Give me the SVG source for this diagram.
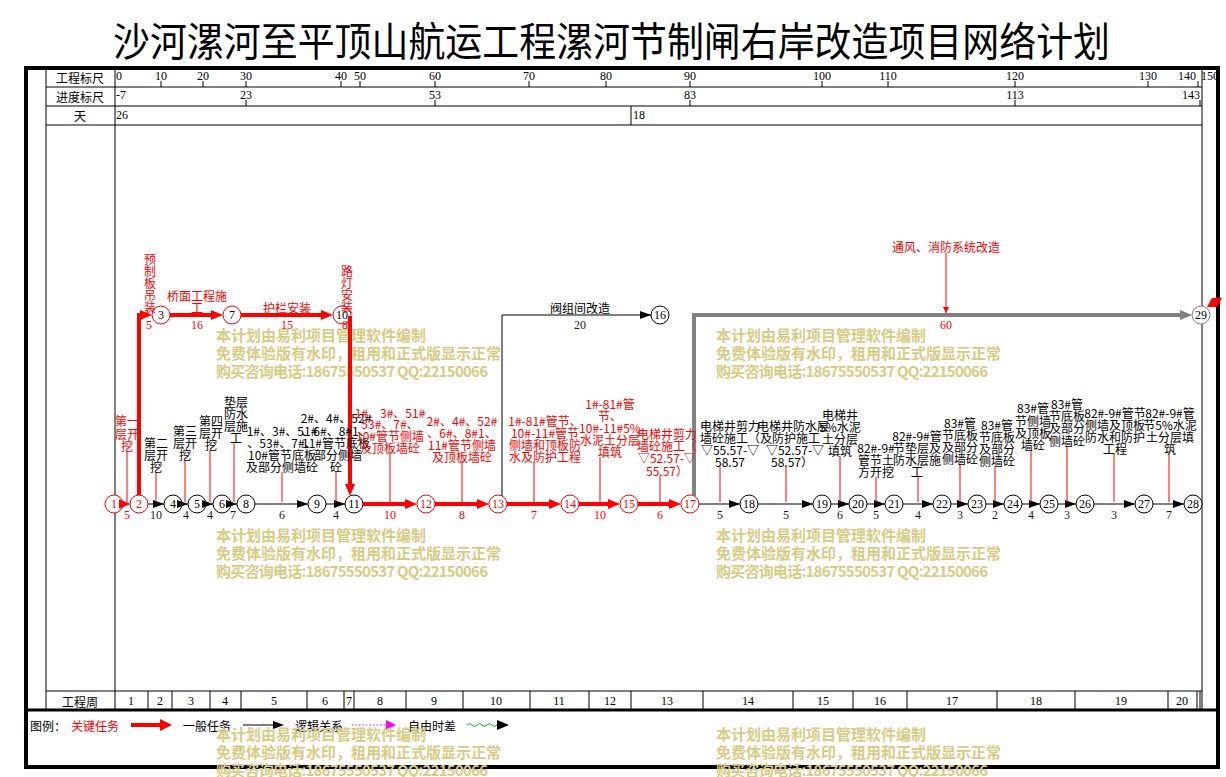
<svg xmlns="http://www.w3.org/2000/svg" width="1226" height="777" viewBox="0 0 1226 777">
<defs>
<style>
.t{font-family:"Noto Sans CJK SC","Noto Sans",sans-serif;font-size:12px;dominant-baseline:central;text-anchor:middle}
.n{font-family:"Liberation Serif",serif;font-size:12px;dominant-baseline:central;text-anchor:middle}
.s{text-anchor:start}
.r{fill:#f00}
.k{fill:#000}
.d{fill:#1a1a1a}
.wm{font-family:"Noto Sans CJK SC",sans-serif;font-size:15px;font-weight:bold;fill:#d8cb84;dominant-baseline:central}
.nc{fill:#fff;stroke:#000;stroke-width:1}
.rc{stroke:#f00}
.gc{stroke:#808080}
.grid{fill:none;stroke:#000;stroke-width:1}
.bk{fill:none;stroke:#000;stroke-width:1;marker-end:url(#ab)}
.cr{fill:none;stroke:#f00;stroke-width:4;marker-end:url(#ar)}
.gy{fill:none;stroke:#808080;stroke-width:4;marker-end:url(#ag)}
.pt{fill:none;stroke:#f00;stroke-width:1;marker-end:url(#ap)}
</style>
<marker id="ab" markerUnits="userSpaceOnUse" markerWidth="11" markerHeight="8" refX="11" refY="4" orient="auto"><path d="M0,0L11,4L0,8z" fill="#000"/></marker>
<marker id="ar" markerUnits="userSpaceOnUse" markerWidth="12" markerHeight="10" refX="6" refY="5" orient="auto"><path d="M0,0L12,5L0,10z" fill="#f00"/></marker>
<marker id="ag" markerUnits="userSpaceOnUse" markerWidth="12" markerHeight="10" refX="6" refY="5" orient="auto"><path d="M0,0L12,5L0,10z" fill="#808080"/></marker>
<marker id="ap" markerUnits="userSpaceOnUse" markerWidth="6" markerHeight="6" refX="6" refY="3" orient="auto"><path d="M0,0L6,3L0,6z" fill="#f00"/></marker>
</defs>
<rect x="0" y="0" width="1226" height="777" fill="#fff"/>
<text x="113" y="56" font-family="Noto Sans CJK SC, sans-serif" font-size="40" textLength="997" lengthAdjust="spacingAndGlyphs" fill="#000">沙河漯河至平顶山航运工程漯河节制闸右岸改造项目网络计划</text>

<g id="frame">
<rect x="26" y="68" width="1192" height="699" fill="none" stroke="#000" stroke-width="4"/>
<path class="grid" d="M46,68V710M115,68V710M1202,68V710M46,87H1202M46,106H1202M46,125H1202M46,691H1202"/>
<path d="M26,710H1218" stroke="#000" stroke-width="3"/>
<path class="grid" d="M161,81V87M203,81V87M246,81V87M341,81V87M360,81V87M435,81V87M529,81V87M606,81V87M690,81V87M822,81V87M888,81V87M1015,81V87M1148,81V87M1198,81V87M246,100V106M435,100V106M690,100V106M1015,100V106M1200,100V106M631,106V125"/>
<path class="grid" d="M148,691V710M172,691V710M210,691V710M241,691V710M307,691V710M344,691V710M354,691V710M406,691V710M463,691V710M530,691V710M589,691V710M631,691V710M703,691V710M793,691V710M853,691V710M907,691V710M997,691V710M1075,691V710M1168,691V710M1197,691V710M1200,691V710"/>
<text class="t k" x="80" y="77">工程标尺</text>
<text class="t k" x="80" y="96">进度标尺</text>
<text class="t k" x="80" y="115">天</text>
<text class="t k" x="80" y="701">工程周</text>
<g class="n k">
<text class="s" x="116" y="76">0</text><text x="161" y="76">10</text><text x="203" y="76">20</text><text x="246" y="76">30</text><text x="341" y="76">40</text><text x="360" y="76">50</text><text x="435" y="76">60</text><text x="529" y="76">70</text><text x="606" y="76">80</text><text x="690" y="76">90</text><text x="822" y="76">100</text><text x="888" y="76">110</text><text x="1015" y="76">120</text><text x="1148" y="76">130</text><text x="1187" y="76">140</text><text x="1210" y="76">150</text>
<text class="s" x="116" y="95">-7</text><text x="246" y="95">23</text><text x="435" y="95">53</text><text x="690" y="95">83</text><text x="1015" y="95">113</text><text x="1191" y="95">143</text>
<text class="s" x="116" y="115">26</text><text class="s" x="633" y="115">18</text>
<text x="131" y="701">1</text><text x="160" y="701">2</text><text x="191" y="701">3</text><text x="225" y="701">4</text><text x="274" y="701">5</text><text x="325" y="701">6</text><text x="349" y="701">7</text><text x="380" y="701">8</text><text x="434" y="701">9</text><text x="496" y="701">10</text><text x="559" y="701">11</text><text x="610" y="701">12</text><text x="667" y="701">13</text><text x="748" y="701">14</text><text x="823" y="701">15</text><text x="880" y="701">16</text><text x="952" y="701">17</text><text x="1036" y="701">18</text><text x="1121" y="701">19</text><text x="1182" y="701">20</text>
</g>
</g>

<g id="legend">
<text class="t k s" x="30" y="725">图例：</text>
<text class="t r s" x="71" y="725">关键任务</text>
<path d="M131,725H163" stroke="#f00" stroke-width="4"/><path d="M160,719L172,725L160,731z" fill="#f00"/>
<text class="t k s" x="183" y="725">一般任务</text>
<path d="M243,725H275" stroke="#000" stroke-width="1"/><path d="M273,721L284,725L273,729z" fill="#000"/>
<text class="t k s" x="295" y="725">逻辑关系</text>
<path d="M352,725H386" stroke="#f0f" stroke-width="1" stroke-dasharray="1.5,2"/><path d="M386,720L396,725L386,730z" fill="#f0f"/>
<text class="t k s" x="408" y="725">自由时差</text>
<path d="M467,725q2.5,-3 5,0t5,0t5,0t5,0t5,0t5,0" fill="none" stroke="#00c000" stroke-width="1"/><path d="M497,720L509,725L497,730z" fill="#000"/>
</g>

<g id="watermark" class="wm">
<text x="216" y="334">本计划由易利项目管理软件编制</text><text x="216" y="352">免费体验版有水印，租用和正式版显示正常</text><text x="216" y="370" textLength="272">购买咨询电话:18675550537 QQ:22150066</text>
<text x="716" y="334">本计划由易利项目管理软件编制</text><text x="716" y="352">免费体验版有水印，租用和正式版显示正常</text><text x="716" y="370" textLength="272">购买咨询电话:18675550537 QQ:22150066</text>
<text x="216" y="534">本计划由易利项目管理软件编制</text><text x="216" y="552">免费体验版有水印，租用和正式版显示正常</text><text x="216" y="570" textLength="272">购买咨询电话:18675550537 QQ:22150066</text>
<text x="716" y="534">本计划由易利项目管理软件编制</text><text x="716" y="552">免费体验版有水印，租用和正式版显示正常</text><text x="716" y="570" textLength="272">购买咨询电话:18675550537 QQ:22150066</text>
<text x="216" y="733">本计划由易利项目管理软件编制</text><text x="216" y="751">免费体验版有水印，租用和正式版显示正常</text><text x="216" y="769" textLength="272">购买咨询电话:18675550537 QQ:22150066</text>
<text x="716" y="733">本计划由易利项目管理软件编制</text><text x="716" y="751">免费体验版有水印，租用和正式版显示正常</text><text x="716" y="769" textLength="272">购买咨询电话:18675550537 QQ:22150066</text>
</g>

<g id="nodes">
<g id="n1"><circle class="nc rc" cx="114" cy="504" r="9"/><text class="n r" x="114" y="504">1</text></g>
<g id="n2"><circle class="nc rc" cx="139" cy="504" r="9"/><text class="n r" x="139" y="504">2</text></g>
<g id="n3"><circle class="nc rc" cx="161" cy="315" r="9"/><text class="n k" x="161" y="315">3</text></g>
<g id="n4"><circle class="nc" cx="173" cy="504" r="9"/><text class="n k" x="173" y="504">4</text></g>
<g id="n5"><circle class="nc" cx="197" cy="504" r="9"/><text class="n k" x="197" y="504">5</text></g>
<g id="n6"><circle class="nc" cx="222" cy="504" r="9"/><text class="n k" x="222" y="504">6</text></g>
<g id="n7"><circle class="nc rc" cx="232" cy="315" r="9"/><text class="n k" x="232" y="315">7</text></g>
<g id="n8"><circle class="nc" cx="246" cy="504" r="9"/><text class="n k" x="246" y="504">8</text></g>
<g id="n9"><circle class="nc" cx="317" cy="504" r="9"/><text class="n k" x="317" y="504">9</text></g>
<g id="n10"><circle class="nc rc" cx="342" cy="315" r="9"/><text class="n k" x="342" y="315">10</text></g>
<g id="n11"><circle class="nc" cx="354" cy="504" r="9"/><text class="n k" x="354" y="504">11</text></g>
<g id="n12"><circle class="nc rc" cx="426" cy="504" r="9"/><text class="n r" x="426" y="504">12</text></g>
<g id="n13"><circle class="nc rc" cx="498" cy="504" r="9"/><text class="n r" x="498" y="504">13</text></g>
<g id="n14"><circle class="nc rc" cx="570" cy="504" r="9"/><text class="n r" x="570" y="504">14</text></g>
<g id="n15"><circle class="nc rc" cx="629" cy="504" r="9"/><text class="n r" x="629" y="504">15</text></g>
<g id="n16"><circle class="nc" cx="660" cy="315" r="9"/><text class="n k" x="660" y="315">16</text></g>
<g id="n17"><circle class="nc rc" cx="690" cy="504" r="9"/><text class="n r" x="690" y="504">17</text></g>
<g id="n18"><circle class="nc" cx="749" cy="504" r="9"/><text class="n k" x="749" y="504">18</text></g>
<g id="n19"><circle class="nc" cx="822" cy="504" r="9"/><text class="n k" x="822" y="504">19</text></g>
<g id="n20"><circle class="nc" cx="858" cy="504" r="9"/><text class="n k" x="858" y="504">20</text></g>
<g id="n21"><circle class="nc" cx="894" cy="504" r="9"/><text class="n k" x="894" y="504">21</text></g>
<g id="n22"><circle class="nc" cx="942" cy="504" r="9"/><text class="n k" x="942" y="504">22</text></g>
<g id="n23"><circle class="nc" cx="977" cy="504" r="9"/><text class="n k" x="977" y="504">23</text></g>
<g id="n24"><circle class="nc" cx="1013" cy="504" r="9"/><text class="n k" x="1013" y="504">24</text></g>
<g id="n25"><circle class="nc" cx="1049" cy="504" r="9"/><text class="n k" x="1049" y="504">25</text></g>
<g id="n26"><circle class="nc" cx="1085" cy="504" r="9"/><text class="n k" x="1085" y="504">26</text></g>
<g id="n27"><circle class="nc" cx="1144" cy="504" r="9"/><text class="n k" x="1144" y="504">27</text></g>
<g id="n28"><circle class="nc" cx="1193" cy="504" r="9"/><text class="n k" x="1193" y="504">28</text></g>
<g id="n29"><circle class="nc gc" cx="1201" cy="315" r="9"/><text class="n k" x="1201" y="315">29</text><path d="M1212,298H1222L1217,307H1207z" fill="#f00"/></g>
</g>

<g id="connectors">
<path class="cr" d="M123,504H124.5"/>
<path class="cr" d="M139,495V315H146"/>
<path class="cr" d="M170,315H217"/>
<path class="cr" d="M241,315H327"/>
<path class="cr" d="M350,316V490"/>
<path class="cr" d="M363,504H411"/>
<path class="cr" d="M435,504H483"/>
<path class="cr" d="M507,504H555"/>
<path class="cr" d="M579,504H614"/>
<path class="cr" d="M638,504H675"/>
<path class="bk" d="M148,504H164"/>
<path class="bk" d="M182,504H188"/>
<path class="bk" d="M206,504H213"/>
<path class="bk" d="M231,504H237"/>
<path class="bk" d="M255,504H308"/>
<path class="bk" d="M326,504H345"/>
<path class="bk" d="M502,496V315H651"/>
<path class="bk" d="M699,504H740"/>
<path class="bk" d="M758,504H813"/>
<path class="bk" d="M831,504H849"/>
<path class="bk" d="M867,504H885"/>
<path class="bk" d="M903,504H933"/>
<path class="bk" d="M951,504H968"/>
<path class="bk" d="M986,504H1004"/>
<path class="bk" d="M1022,504H1040"/>
<path class="bk" d="M1058,504H1076"/>
<path class="bk" d="M1094,504H1135"/>
<path class="bk" d="M1153,504H1184"/>
<path class="gy" d="M694,496V315H1186"/>
<path class="pt" d="M127,451V502M156,472V502M185,460V502M210,450V502M234,443V502M282,472V502M336,472V502M390,453V502M462,462V502M534,462V502M600,457V502M660,476V502M720,467V502M786,467V502M840,456V502M876,477V502M918,477V502M960,464V502M995,466V502M1031,450V502M1067,446V502M1114,454V502M1169,454V502M946,253V313"/>
</g>

<g id="labels">
<text class="t r" x="127"><tspan x="127" y="420">第一</tspan><tspan x="127" y="433">层开</tspan><tspan x="127" y="445">挖</tspan></text>
<text class="t k" x="156"><tspan x="156" y="442">第二</tspan><tspan x="156" y="454">层开</tspan><tspan x="156" y="466">挖</tspan></text>
<text class="t k" x="185"><tspan x="185" y="430">第三</tspan><tspan x="185" y="442">层开</tspan><tspan x="185" y="454">挖</tspan></text>
<text class="t k" x="211"><tspan x="211" y="420">第四</tspan><tspan x="211" y="432">层开</tspan><tspan x="211" y="444">挖</tspan></text>
<text class="t k" x="236"><tspan x="236" y="401">垫层</tspan><tspan x="236" y="413">防水</tspan><tspan x="236" y="425">层施</tspan><tspan x="236" y="437">工</tspan></text>
<text class="t k" x="282"><tspan x="282" y="430">1#、3#、51#</tspan><tspan x="282" y="442">、53#、7#、</tspan><tspan x="282" y="454">10#管节底板</tspan><tspan x="282" y="466">及部分侧墙砼</tspan></text>
<text class="t k" x="336"><tspan x="336" y="417">2#、4#、52#</tspan><tspan x="336" y="430">、6#、8#1、</tspan><tspan x="336" y="442">11#管节底板</tspan><tspan x="338" y="454">部分侧墙</tspan><tspan x="336" y="466">砼</tspan></text>
<text class="t r" x="390"><tspan x="390" y="412">1#、3#、51#</tspan><tspan x="390" y="423">53#、7#、</tspan><tspan x="390" y="435">10#管节侧墙</tspan><tspan x="390" y="447">及顶板墙砼</tspan></text>
<text class="t r" x="462"><tspan x="462" y="420">2#、4#、52#</tspan><tspan x="462" y="432">、6#、8#1、</tspan><tspan x="462" y="444">11#管节侧墙</tspan><tspan x="462" y="456">及顶板墙砼</tspan></text>
<text class="t r" x="545"><tspan x="545" y="420">1#-81#管节、</tspan><tspan x="545" y="432">10#-11#管节</tspan><tspan x="545" y="444">侧墙和顶板防</tspan><tspan x="545" y="456">水及防护工程</tspan></text>
<text class="t r" x="610"><tspan x="610" y="403">1#-81#管</tspan><tspan x="610" y="415">节、</tspan><tspan x="610" y="427">10#-11#5%</tspan><tspan x="610" y="439">水泥土分层</tspan><tspan x="610" y="451">填筑</tspan></text>
<text class="t r" x="667"><tspan x="667" y="433">电梯井剪力</tspan><tspan x="667" y="445">墙砼施工（</tspan><tspan x="667" y="457">▽52.57-▽</tspan><tspan x="667" y="470">55.57）</tspan></text>
<text class="t k" x="730"><tspan x="730" y="425">电梯井剪力</tspan><tspan x="730" y="437">墙砼施工（</tspan><tspan x="730" y="449">▽55.57-▽</tspan><tspan x="730" y="461">58.57</tspan></text>
<text class="t k" x="792"><tspan x="793" y="425">电梯井防水层</tspan><tspan x="790" y="437">及防护施工</tspan><tspan x="795" y="449">▽52.57-▽</tspan><tspan x="792" y="461">58.57）</tspan></text>
<text class="t k" x="840"><tspan x="840" y="414">电梯井</tspan><tspan x="840" y="426">5%水泥</tspan><tspan x="840" y="438">土分层</tspan><tspan x="840" y="450">填筑</tspan></text>
<text class="t k" x="876"><tspan x="876" y="447">82#-9#</tspan><tspan x="876" y="459">管节土</tspan><tspan x="876" y="471">方开挖</tspan></text>
<text class="t k" x="917"><tspan x="917" y="435">82#-9#管</tspan><tspan x="917" y="447">节垫层及</tspan><tspan x="917" y="459">防水层施</tspan><tspan x="917" y="471">工</tspan></text>
<text class="t k" x="960"><tspan x="960" y="422">83#管</tspan><tspan x="960" y="434">节底板</tspan><tspan x="960" y="446">及部分</tspan><tspan x="960" y="458">侧墙砼</tspan></text>
<text class="t k" x="997"><tspan x="997" y="424">83#管</tspan><tspan x="997" y="436">节底板</tspan><tspan x="997" y="448">及部分</tspan><tspan x="997" y="460">侧墙砼</tspan></text>
<text class="t k" x="1033"><tspan x="1033" y="407">83#管</tspan><tspan x="1033" y="420">节侧墙</tspan><tspan x="1033" y="432">及顶板</tspan><tspan x="1033" y="444">墙砼</tspan></text>
<text class="t k" x="1067"><tspan x="1067" y="403">83#管</tspan><tspan x="1067" y="415">节底板</tspan><tspan x="1067" y="427">及部分</tspan><tspan x="1067" y="440">侧墙砼</tspan></text>
<text class="t k" x="1115"><tspan x="1115" y="412">82#-9#管节</tspan><tspan x="1115" y="424">侧墙及顶板</tspan><tspan x="1115" y="436">防水和防护</tspan><tspan x="1115" y="448">工程</tspan></text>
<text class="t k" x="1170"><tspan x="1170" y="412">82#-9#管</tspan><tspan x="1170" y="424">节5%水泥</tspan><tspan x="1170" y="436">土分层填</tspan><tspan x="1170" y="448">筑</tspan></text>
<text class="t r" x="150"><tspan x="150" y="258">预</tspan><tspan x="150" y="270">制</tspan><tspan x="150" y="282">板</tspan><tspan x="150" y="294">吊</tspan><tspan x="150" y="306">装</tspan></text>
<text class="t r" x="197"><tspan x="197" y="295">桥面工程施</tspan><tspan x="197" y="307">工</tspan></text>
<text class="t r" x="287" y="307">护栏安装</text>
<text class="t r" x="347"><tspan x="347" y="270">路</tspan><tspan x="347" y="282">灯</tspan><tspan x="347" y="294">安</tspan><tspan x="347" y="306">装</tspan></text>
<text class="t k" x="580" y="307">阀组间改造</text>
<text class="t r" x="946" y="246">通风、消防系统改造</text>
<g class="n">
<text class="r" x="149" y="325">5</text><text class="r" x="197" y="325">16</text><text class="r" x="287" y="325">15</text><text class="r" x="345" y="325">8</text><text class="d" x="580" y="325">20</text><text class="r" x="946" y="325">60</text>
<text class="r" x="127" y="515">5</text><text class="d" x="156" y="515">10</text><text class="d" x="186" y="515">4</text><text class="d" x="210" y="515">4</text><text class="d" x="233" y="515">7</text><text class="d" x="282" y="515">6</text><text class="d" x="336" y="515">4</text>
<text class="r" x="390" y="515">10</text><text class="r" x="462" y="515">8</text><text class="r" x="534" y="515">7</text><text class="r" x="600" y="515">10</text><text class="r" x="660" y="515">6</text>
<text class="d" x="720" y="515">5</text><text class="d" x="786" y="515">5</text><text class="d" x="840" y="515">6</text><text class="d" x="876" y="515">5</text><text class="d" x="918" y="515">4</text><text class="d" x="960" y="515">3</text><text class="d" x="995" y="515">2</text><text class="d" x="1031" y="515">4</text><text class="d" x="1067" y="515">3</text><text class="d" x="1114" y="515">3</text><text class="d" x="1169" y="515">7</text>
</g>
</g>
</svg>
